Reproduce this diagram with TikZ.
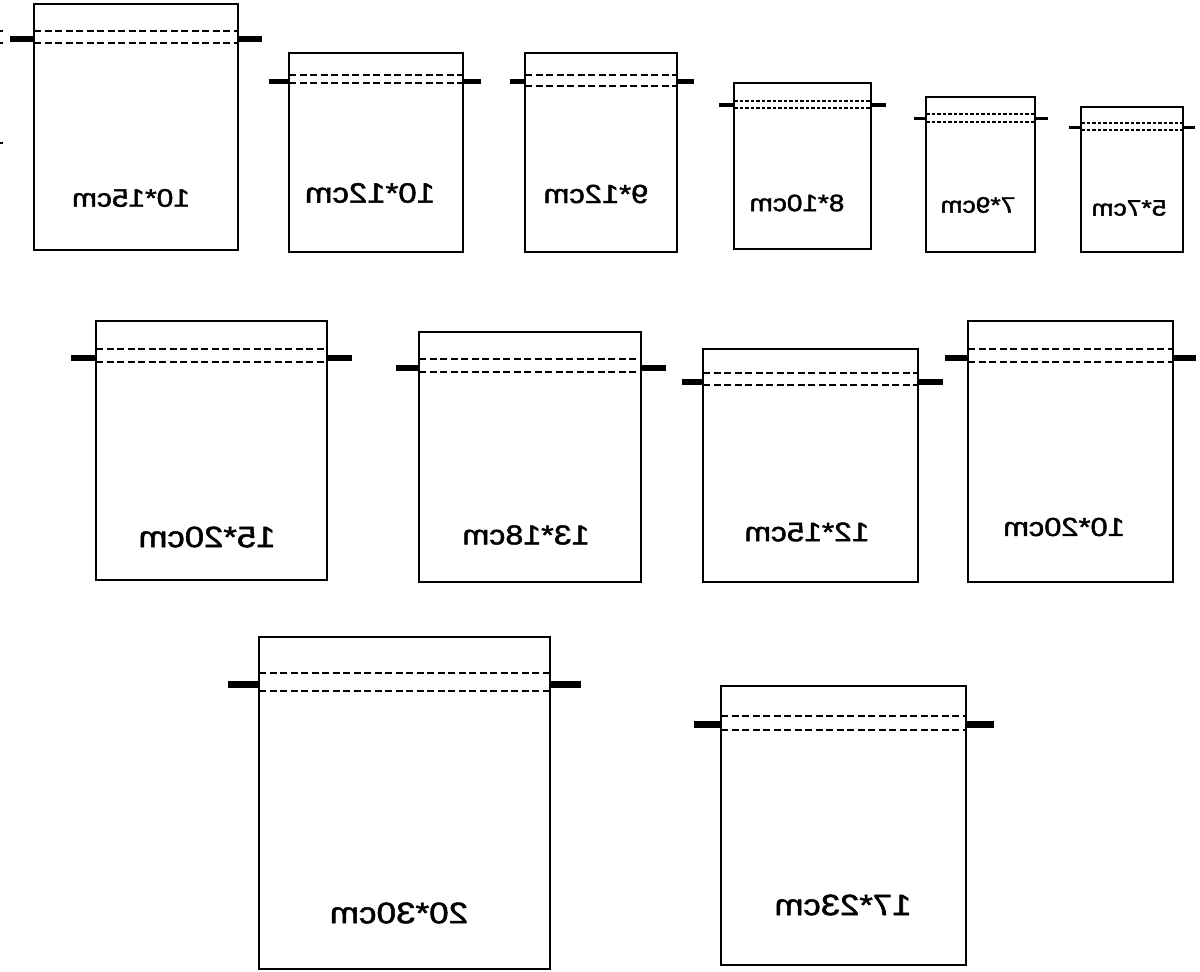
\documentclass[tikz,border=0pt]{standalone}
\usepackage{graphicx}
\usepackage{fontspec}
\setmainfont{Liberation Sans}
\newfontfamily\lblfont{Liberation Sans}[FakeBold=1.6]
\newcommand{\mir}[1]{\scalebox{-1.18}[1]{#1}}
\tikzset{
  bagbox/.style={draw=black, line width=1.5pt},
  seam/.style={draw=black, line width=1.8pt, dash pattern=on 7pt off 3.5pt},
  seamsmall/.style={draw=black, line width=1.2pt, dash pattern=on 3.5pt off 2pt},
  cord/.style={draw=black, line cap=butt},
  lbl/.style={inner sep=0pt, text=black}
}
\begin{document}
\begin{tikzpicture}[x=1pt,y=-1pt]
\useasboundingbox[fill=white] (0,0) rectangle (1200,972);
% stray fragments at left edge
\draw[black, line width=1.2pt] (0,31) -- (3,31);
\draw[black, line width=1.2pt] (0,43) -- (3,43);
\draw[black, line width=1.2pt] (0,143) -- (3,143);

% ---- Row 1 ----
% 10*15cm
\draw[bagbox] (34,4) rectangle (238,250);
\draw[seam] (34,31) -- (238,31);
\draw[seam] (34,43) -- (238,43);
\draw[cord, line width=6pt] (10,39) -- (34,39);
\draw[cord, line width=6pt] (238,39) -- (262,39);
\node[lbl, font=\lblfont\fontsize{25.3}{30}\selectfont] (t1) at (131,198) {\mir{10*15cm}};

% 10*12cm
\draw[bagbox] (289,53) rectangle (463,252);
\draw[seam] (289,75) -- (463,75);
\draw[seam] (289,83) -- (463,83);
\draw[cord, line width=5pt] (269,81) -- (289,81);
\draw[cord, line width=5pt] (463,81) -- (481,81);
\node[lbl, font=\lblfont\fontsize{27.9}{32}\selectfont] (t2) at (370,193) {\mir{10*12cm}};

% 9*12cm
\draw[bagbox] (525,53) rectangle (677,252);
\draw[seam] (525,75) -- (677,75);
\draw[seam] (525,86) -- (677,86);
\draw[cord, line width=5pt] (510,81) -- (525,81);
\draw[cord, line width=5pt] (677,81) -- (694,81);
\node[lbl, font=\lblfont\fontsize{26.2}{30}\selectfont] (t3) at (596,194) {\mir{9*12cm}};

% 8*10cm
\draw[bagbox] (734,83) rectangle (871,249);
\draw[seamsmall] (734,101) -- (871,101);
\draw[seamsmall] (734,108) -- (871,108);
\draw[cord, line width=4pt] (719,105) -- (734,105);
\draw[cord, line width=4pt] (871,105) -- (886,105);
\node[lbl, font=\lblfont\fontsize{23.7}{28}\selectfont] (t4) at (797,203) {\mir{8*10cm}};

% 7*9cm
\draw[bagbox] (926,97) rectangle (1035,252);
\draw[seamsmall] (926,114) -- (1035,114);
\draw[seamsmall] (926,122) -- (1035,122);
\draw[cord, line width=3pt] (914,118) -- (926,118);
\draw[cord, line width=3pt] (1035,118) -- (1048,118);
\node[lbl, font=\lblfont\fontsize{22.4}{26}\selectfont] (t5) at (978,205) {\mir{7*9cm}};

% 5*7cm
\draw[bagbox] (1081,107) rectangle (1183,252);
\draw[seamsmall] (1081,123) -- (1183,123);
\draw[seamsmall] (1081,130) -- (1183,130);
\draw[cord, line width=3pt] (1069,127) -- (1081,127);
\draw[cord, line width=3pt] (1183,127) -- (1195,127);
\node[lbl, font=\lblfont\fontsize{22.4}{26}\selectfont] (t6) at (1129,208) {\mir{5*7cm}};

% ---- Row 2 ----
% 15*20cm
\draw[bagbox] (96,321) rectangle (327,580);
\draw[seam] (96,349) -- (327,349);
\draw[seam] (96,362) -- (327,362);
\draw[cord, line width=6pt] (71,358) -- (96,358);
\draw[cord, line width=6pt] (327,358) -- (352,358);
\node[lbl, font=\lblfont\fontsize{29.4}{34}\selectfont] (t7) at (207,537) {\mir{15*20cm}};

% 13*18cm
\draw[bagbox] (419,332) rectangle (641,582);
\draw[seam] (419,359) -- (641,359);
\draw[seam] (419,372) -- (641,372);
\draw[cord, line width=6pt] (396,368) -- (419,368);
\draw[cord, line width=6pt] (641,368) -- (666,368);
\node[lbl, font=\lblfont\fontsize{27.3}{32}\selectfont] (t8) at (526,535) {\mir{13*18cm}};

% 12*15cm
\draw[bagbox] (703,349) rectangle (918,582);
\draw[seam] (703,373) -- (918,373);
\draw[seam] (703,385) -- (918,385);
\draw[cord, line width=6pt] (682,382) -- (703,382);
\draw[cord, line width=6pt] (918,382) -- (943,382);
\node[lbl, font=\lblfont\fontsize{26.8}{32}\selectfont] (t9) at (807,532) {\mir{12*15cm}};

% 10*20cm
\draw[bagbox] (968,321) rectangle (1173,582);
\draw[seam] (968,349) -- (1173,349);
\draw[seam] (968,362) -- (1173,362);
\draw[cord, line width=6pt] (945,358) -- (968,358);
\draw[cord, line width=6pt] (1173,358) -- (1196,358);
\node[lbl, font=\lblfont\fontsize{26.1}{31}\selectfont] (t10) at (1064,527) {\mir{10*20cm}};

% ---- Row 3 ----
% 20*30cm
\draw[bagbox] (259,637) rectangle (550,969);
\draw[seam] (259,673) -- (550,673);
\draw[seam] (259,691) -- (550,691);
\draw[cord, line width=7pt] (228,684) -- (259,684);
\draw[cord, line width=7pt] (550,684) -- (581,684);
\node[lbl, font=\lblfont\fontsize{29.7}{35}\selectfont] (t11) at (399,913) {\mir{20*30cm}};

% 17*23cm
\draw[bagbox] (721,686) rectangle (966,965);
\draw[seam] (721,716) -- (966,716);
\draw[seam] (721,730) -- (966,730);
\draw[cord, line width=7pt] (694,724) -- (721,724);
\draw[cord, line width=7pt] (966,724) -- (994,724);
\node[lbl, font=\lblfont\fontsize{29.4}{35}\selectfont] (t12) at (843,905) {\mir{17*23cm}};
\end{tikzpicture}
\end{document}
